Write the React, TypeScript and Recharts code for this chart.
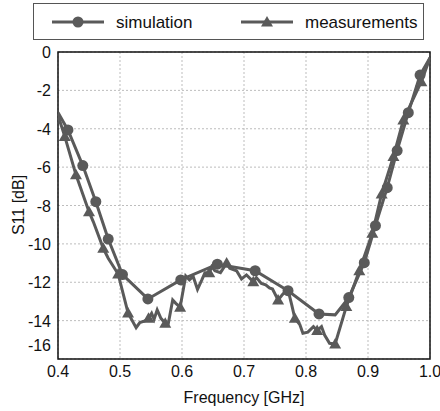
import React from "react";
import {
    LineChart,
    Line,
    XAxis,
    YAxis,
    CartesianGrid,
    ReferenceArea,
} from "recharts";

// simulation trace (GHz, dB) and which vertices carry a circle marker
const simFreq = [0.4, 0.416, 0.44, 0.461, 0.481, 0.504, 0.545, 0.598, 0.657, 0.718, 0.771, 0.821, 0.847, 0.869, 0.894, 0.912, 0.931, 0.947, 0.965, 0.984, 1.0];
const simS11 = [-3.15, -4.06, -5.92, -7.8, -9.75, -11.6, -12.87, -11.88, -11.06, -11.4, -12.44, -13.65, -13.7, -12.8, -10.98, -9.05, -7.07, -5.14, -3.16, -1.2, -0.3];
const simMarked = [0, 1, 1, 1, 1, 1, 1, 1, 1, 1, 1, 1, 0, 1, 1, 1, 1, 1, 1, 1, 0];

// measured trace and which vertices carry a triangle marker
const measFreq = [0.4, 0.411, 0.429, 0.45, 0.457, 0.473, 0.481, 0.497, 0.513, 0.526, 0.532, 0.54, 0.546, 0.551, 0.555, 0.56, 0.566, 0.573, 0.578, 0.585, 0.59, 0.597, 0.606, 0.612, 0.618, 0.625, 0.632, 0.637, 0.644, 0.648, 0.653, 0.662, 0.672, 0.677, 0.688, 0.696, 0.704, 0.715, 0.72, 0.728, 0.735, 0.741, 0.746, 0.755, 0.763, 0.771, 0.777, 0.782, 0.79, 0.795, 0.803, 0.812, 0.818, 0.825, 0.83, 0.838, 0.847, 0.865, 0.886, 0.907, 0.922, 0.941, 0.957, 0.986, 1.0];
const measS11 = [-3.3, -4.41, -6.4, -8.32, -8.85, -10.23, -10.75, -11.57, -13.6, -14.37, -14.1, -14.02, -13.88, -13.62, -13.93, -13.44, -13.88, -14.14, -14.14, -12.92, -13.1, -13.3, -11.67, -11.88, -11.7, -12.37, -11.88, -11.5, -11.5, -11.19, -11.4, -11.5, -11.0, -11.27, -11.4, -11.83, -11.62, -11.97, -11.76, -12.06, -12.14, -12.3, -12.35, -12.92, -12.6, -12.4, -13.18, -13.88, -14.2, -14.66, -14.6, -14.31, -14.52, -14.31, -14.75, -15.18, -15.22, -13.27, -11.4, -9.45, -7.4, -5.45, -3.54, -1.55, -0.3];
const measMarked = [0, 1, 1, 1, 0, 1, 0, 1, 1, 0, 0, 0, 1, 0, 0, 0, 0, 1, 0, 0, 0, 1, 0, 0, 0, 0, 0, 0, 1, 0, 0, 0, 1, 0, 0, 0, 0, 1, 0, 0, 0, 0, 0, 1, 0, 0, 0, 1, 0, 0, 0, 0, 1, 0, 0, 0, 1, 1, 1, 1, 1, 1, 1, 1, 0];

const xTicks = [0.4, 0.5, 0.6, 0.7, 0.8, 0.9, 1.0];
const yTicks = [0, -2, -4, -6, -8, -10, -12, -14, -16];

const simData = simFreq.map((f, i) => ({ f, v: simS11[i], m: simMarked[i] }));
const measData = measFreq.map((f, i) => ({ f, v: measS11[i], m: measMarked[i] }));

const COLOR = "#5a5a5a";
const FONT = "'Liberation Sans', Arial, sans-serif";

const CircleDot = (props: any) => {
    const { cx, cy, payload, index } = props;
    if (!payload?.m) return <g key={`c${index}`} />;
    return <circle key={`c${index}`} cx={cx} cy={cy} r={5.5} fill={COLOR} />;
};

const TriDot = (props: any) => {
    const { cx, cy, payload, index } = props;
    if (!payload?.m) return <g key={`t${index}`} />;
    const s = 6;
    return (
        <polygon
            key={`t${index}`}
            points={`${cx},${cy - s} ${cx - s},${cy + s * 0.75} ${cx + s},${cy + s * 0.75}`}
            fill={COLOR}
        />
    );
};

const YTick = (props: any) => {
    const { x, y, payload } = props;
    const shift = payload.value === -16 ? -14 : 0;
    return (
        <text x={x + 1} y={y + shift} dy={6} textAnchor="end" fontSize={16} fill="#111" fontFamily={FONT}>
            {payload.value}
        </text>
    );
};

const XTick = (props: any) => {
    const { x, y, payload } = props;
    return (
        <text x={x} y={y} dy={10} textAnchor="middle" fontSize={16} fill="#111" fontFamily={FONT}>
            {payload.value.toFixed(1)}
        </text>
    );
};

const LegendBox = () => (
    <div
        style={{
            position: "absolute",
            left: 33,
            top: 3,
            width: 391,
            height: 37,
            border: "1px solid #555",
            boxSizing: "border-box",
            background: "#fff",
        }}
    >
        <svg width={389} height={35} style={{ position: "absolute", left: 0, top: 0 }}>
            <line x1={18} x2={70} y1={18} y2={18} stroke={COLOR} strokeWidth={3} />
            <circle cx={44} cy={18} r={5.5} fill={COLOR} />
            <text x={82} y={24} fontSize={17} fontFamily={FONT} fill="#111">simulation</text>
            <line x1={207} x2={259} y1={18} y2={18} stroke={COLOR} strokeWidth={3} />
            <polygon points="233,12 227,22.5 239,22.5" fill={COLOR} />
            <text x={271} y={24} fontSize={17} fontFamily={FONT} fill="#111">measurements</text>
        </svg>
    </div>
);

const AxisTitles = () => (
    <svg width={440} height={411} style={{ position: "absolute", left: 0, top: 0, pointerEvents: "none" }}>
        <text x={244} y={403} textAnchor="middle" fontSize={16} fontFamily={FONT} fill="#111">
            Frequency [GHz]
        </text>
        <text
            x={0}
            y={0}
            transform="translate(24,205) rotate(-90)"
            textAnchor="middle"
            fontSize={16}
            fontFamily={FONT}
            fill="#111"
        >
            S11 [dB]
        </text>
    </svg>
);

export default function App() {
    return (
        <div style={{ position: "absolute", left: 0, top: 0, width: 440, height: 411, background: "#fff" }}>
            <LineChart
                width={440}
                height={411}
                margin={{ top: 52, right: 10, left: 0, bottom: 0 }}
            >
                <CartesianGrid stroke="#bdbdbd" strokeDasharray="2 2" />
                <XAxis
                    type="number"
                    dataKey="f"
                    domain={[0.4, 1.0]}
                    ticks={xTicks}
                    axisLine={false}
                    tickLine={false}
                    tick={<XTick />}
                    height={52}
                    allowDataOverflow
                />
                <YAxis
                    type="number"
                    domain={[-16, 0]}
                    ticks={yTicks}
                    axisLine={false}
                    tickLine={false}
                    tick={<YTick />}
                    width={58}
                    allowDataOverflow
                />
                <ReferenceArea x1={0.4} x2={1.0} y1={-16} y2={0} fill="none" stroke="#111" strokeWidth={1.5} ifOverflow="visible" />
                <Line
                    data={simData}
                    dataKey="v"
                    type="linear"
                    stroke={COLOR}
                    strokeWidth={3}
                    dot={CircleDot}
                    activeDot={false}
                    isAnimationActive={false}
                />
                <Line
                    data={measData}
                    dataKey="v"
                    type="linear"
                    stroke={COLOR}
                    strokeWidth={3}
                    dot={TriDot}
                    activeDot={false}
                    isAnimationActive={false}
                />
            </LineChart>
            <AxisTitles />
            <LegendBox />
        </div>
    );
}
